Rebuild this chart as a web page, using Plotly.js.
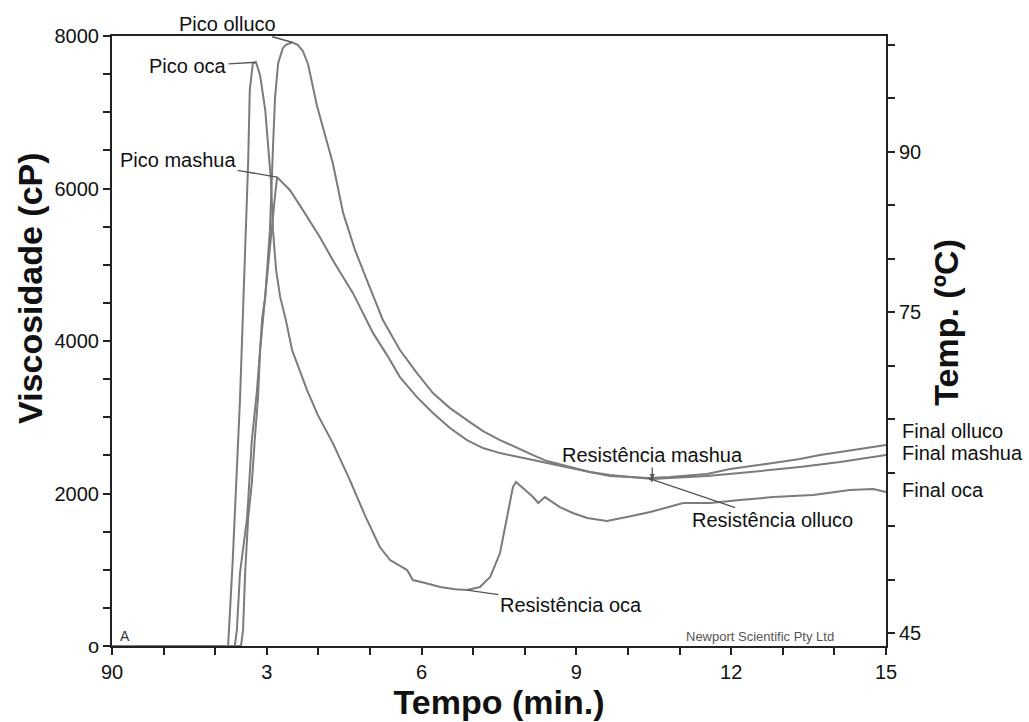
<!DOCTYPE html>
<html>
<head>
<meta charset="utf-8">
<script src="https://cdn.plot.ly/plotly-3.0.1.min.js"></script>
<style>html,body{margin:0;padding:0;background:#fff;}#chart{width:1029px;height:722px;}</style>
</head>
<body>
<div id="chart"></div>
<script>
// Tempo (min.) and Viscosidade (cP)
const ocaTime = [0, 2.21, 2.25, 2.34, 2.42, 2.48, 2.52, 2.58, 2.64, 2.67, 2.73, 2.79, 2.87, 2.97, 3.02, 3.08, 3.12, 3.18, 3.26, 3.37, 3.49, 3.64, 3.78, 3.99, 4.28, 4.61, 4.90, 5.19, 5.39, 5.72, 5.83, 6.07, 6.36, 6.65, 6.88, 7.13, 7.33, 7.52, 7.66, 7.77, 7.83, 8.00, 8.16, 8.26, 8.39, 8.68, 8.93, 9.21, 9.59, 9.98, 10.43, 11.07, 11.59, 12.17, 12.81, 13.59, 14.30, 14.75, 15.0];
const ocaVisc = [0, 0, 0, 1127, 2307, 3225, 4012, 5192, 6371, 7289, 7643, 7656, 7486, 7027, 6634, 6109, 5454, 4929, 4575, 4274, 3881, 3618, 3356, 3028, 2661, 2176, 1717, 1298, 1127, 996, 865, 826, 773, 745, 734, 773, 905, 1219, 1691, 2084, 2150, 2045, 1953, 1875, 1953, 1822, 1744, 1678, 1639, 1691, 1757, 1875, 1875, 1914, 1953, 1980, 2045, 2058, 2019];

const ollucoTime = [0, 2.50, 2.54, 2.58, 2.64, 2.71, 2.77, 2.83, 2.87, 2.91, 2.97, 3.06, 3.12, 3.16, 3.22, 3.31, 3.37, 3.49, 3.60, 3.70, 3.80, 3.88, 3.97, 4.13, 4.28, 4.48, 4.71, 4.94, 5.25, 5.58, 5.91, 6.22, 6.55, 6.88, 7.19, 7.52, 7.85, 8.16, 8.43, 8.88, 9.26, 9.65, 10.04, 10.39, 10.81, 11.20, 11.53, 11.98, 12.36, 12.81, 13.33, 13.72, 14.11, 14.50, 14.79, 15.0];
const ollucoVisc = [0, 0, 210, 957, 1691, 2137, 2740, 3264, 3881, 4300, 4575, 5454, 6542, 7197, 7643, 7840, 7885, 7918, 7885, 7800, 7630, 7394, 7093, 6699, 6332, 5677, 5192, 4798, 4274, 3881, 3579, 3317, 3120, 2963, 2819, 2701, 2596, 2504, 2425, 2347, 2281, 2229, 2216, 2202, 2216, 2242, 2255, 2320, 2360, 2399, 2452, 2504, 2543, 2583, 2610, 2635];

const mashuaTime = [0, 2.38, 2.42, 2.48, 2.62, 2.71, 2.81, 2.87, 2.98, 3.10, 3.16, 3.20, 3.31, 3.45, 3.70, 4.03, 4.28, 4.67, 5.06, 5.33, 5.58, 5.91, 6.22, 6.55, 6.88, 7.19, 7.52, 7.85, 8.16, 8.43, 8.88, 9.26, 9.65, 10.04, 10.47, 10.81, 11.20, 11.53, 12.17, 12.81, 13.33, 14.11, 14.50, 15.0];
const mashuaVisc = [0, 0, 210, 957, 1691, 2701, 3356, 3881, 4667, 5545, 5913, 6149, 6070, 5978, 5716, 5362, 5060, 4628, 4103, 3815, 3527, 3264, 3055, 2858, 2701, 2596, 2530, 2478, 2438, 2399, 2334, 2281, 2242, 2216, 2189, 2202, 2216, 2229, 2268, 2307, 2347, 2412, 2452, 2504];

const xTickVals = [0, 3, 6, 9, 12, 15];
const xTickText = ["90", "3", "6", "9", "12", "15"];
const yTickVals = [0, 2000, 4000, 6000, 8000];
const yTickText = ["o", "2000", "4000", "6000", "8000"];
const tTickVals = [45, 75, 90];
const tTickText = ["45", "75", "90"];

const series = [
  {name: "oca", t: ocaTime, v: ocaVisc},
  {name: "olluco", t: ollucoTime, v: ollucoVisc},
  {name: "mashua", t: mashuaTime, v: mashuaVisc}
];

function peakIdx(v) { let k = 0; v.forEach((y, i) => { if (y > v[k]) k = i; }); return k; }
function troughIdx(v, from) { let k = from; for (let i = from; i < v.length; i++) { if (v[i] < v[k]) k = i; } return k; }

const lineColor = "#7b7b7b";
const traces = series.map(s => ({
  x: s.t, y: s.v, type: "scatter", mode: "lines", name: s.name,
  line: {color: lineColor, width: 2}, showlegend: false, hoverinfo: "skip"
}));
// empty trace so the temperature axis is drawn (no temperature curve is visible in the reference)
traces.push({x: [], y: [], type: "scatter", mode: "lines", yaxis: "y2", showlegend: false, hoverinfo: "skip"});

const S = {}; series.forEach(s => { const p = peakIdx(s.v); S[s.name] = {s, p, r: troughIdx(s.v, p), last: s.v.length - 1}; });

const FAM = "Liberation Sans, Arial, sans-serif";
const annFont = {family: FAM, size: 20, color: "#111"};
const arrow = {showarrow: true, arrowhead: 0, arrowwidth: 1.3, arrowcolor: "#555"};
function at(name, idx) { const o = S[name]; return {x: o.s.t[o[idx]], y: o.s.v[o[idx]]}; }

const titleFont = {family: FAM, size: 34, color: "#111", weight: "bold"};

const annotations = [
  Object.assign({}, at("olluco", "p"), arrow, {text: "Pico olluco", ax: -65, ay: -18, font: annFont}),
  Object.assign({}, at("oca", "p"), arrow, {text: "Pico oca", ax: -68, ay: 4, font: annFont}),
  Object.assign({}, at("mashua", "p"), arrow, {text: "Pico mashua", ax: -99, ay: -17, font: annFont}),
  Object.assign({}, at("mashua", "r"), arrow, {text: "Resistência mashua", ax: 0, ay: -24, arrowhead: 2, arrowsize: 0.8, font: annFont}),
  Object.assign({}, at("olluco", "r"), arrow, {text: "Resistência olluco", ax: 124, ay: 42, arrowhead: 2, arrowsize: 0.8, font: annFont}),
  Object.assign({}, at("oca", "r"), arrow, {text: "Resistência oca", ax: 104, ay: 15, font: annFont}),
  Object.assign({}, at("olluco", "last"), {text: "Final olluco", showarrow: false, xanchor: "left", xshift: 14, yshift: 14, font: annFont}),
  Object.assign({}, at("mashua", "last"), {text: "Final mashua", showarrow: false, xanchor: "left", xshift: 14, yshift: 2, font: annFont}),
  Object.assign({}, at("oca", "last"), {text: "Final oca", showarrow: false, xanchor: "left", xshift: 14, yshift: 2, font: annFont}),
  {x: 12.56, y: 0, xref: "x", yref: "y", text: "Newport Scientific Pty Ltd", showarrow: false, yshift: 10,
   font: {family: FAM, size: 13, color: "#555"}},
  {x: 0.25, y: 0, xref: "x", yref: "y", text: "A", showarrow: false, yshift: 10,
   font: {family: FAM, size: 14, color: "#333"}},
  // axis titles
  {xref: "paper", yref: "paper", x: -0.106, y: 0.587, text: "Viscosidade (cP)", textangle: -90,
   showarrow: false, xanchor: "center", yanchor: "middle", font: titleFont},
  {xref: "paper", yref: "paper", x: 1.077, y: 0.531, text: "Temp. (ºC)", textangle: -90,
   showarrow: false, xanchor: "center", yanchor: "middle", font: titleFont}
];

const tickFont = {family: FAM, size: 20, color: "#111"};
const tk = {ticks: "outside", ticklen: 7, tickwidth: 2, tickcolor: "#222"};

const layout = {
  width: 1029, height: 722,
  margin: {l: 112, r: 143, t: 36, b: 76},
  paper_bgcolor: "#fff", plot_bgcolor: "#fff",
  showlegend: false,
  xaxis: Object.assign({
    range: [0, 15], tickmode: "array", tickvals: xTickVals, ticktext: xTickText,
    minor: Object.assign({tickmode: "linear", tick0: 0, dtick: 1, showgrid: false}, tk),
    showline: true, linecolor: "#222", linewidth: 2, mirror: true,
    showgrid: false, zeroline: false, tickfont: tickFont,
    title: {text: "Tempo (min.)", font: titleFont, standoff: 3}
  }, tk),
  yaxis: Object.assign({
    range: [0, 8000], tickmode: "array", tickvals: yTickVals, ticktext: yTickText,
    minor: Object.assign({tickmode: "linear", tick0: 0, dtick: 500, showgrid: false}, tk),
    showline: true, linecolor: "#222", linewidth: 2,
    showgrid: false, zeroline: false, tickfont: tickFont
  }, tk),
  yaxis2: Object.assign({
    overlaying: "y", side: "right", range: [43.8, 100.8],
    tickmode: "array", tickvals: tTickVals, ticktext: tTickText,
    minor: Object.assign({tickmode: "linear", tick0: 0, dtick: 5, showgrid: false}, tk),
    showline: true, linecolor: "#222", linewidth: 2,
    showgrid: false, zeroline: false, tickfont: tickFont
  }, tk),
  annotations: annotations
};

Plotly.newPlot("chart", traces, layout, {displayModeBar: false, staticPlot: true});
</script>
</body>
</html>
